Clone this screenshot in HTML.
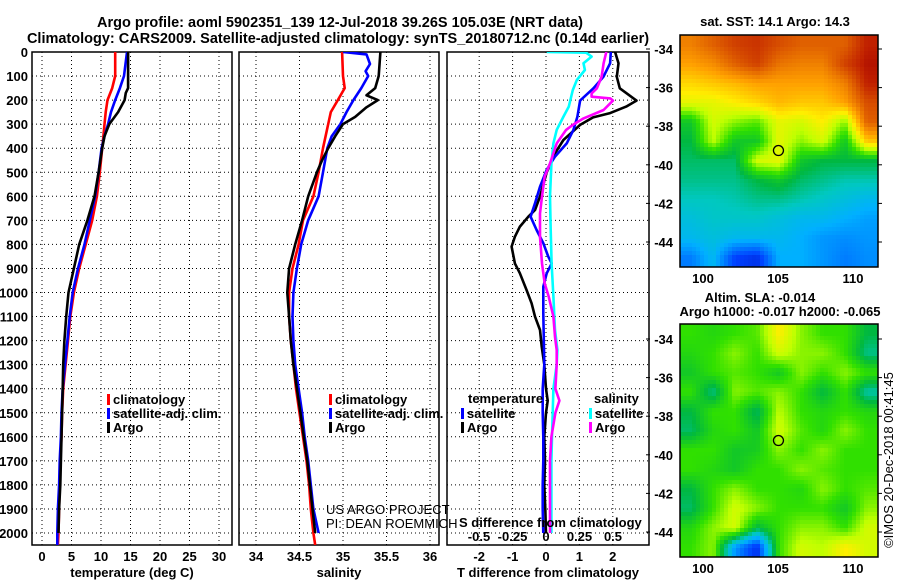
<!DOCTYPE html>
<html><head><meta charset="utf-8">
<style>
html,body{margin:0;padding:0;background:#fff;}
svg{display:block;font-family:"Liberation Sans",Arial,sans-serif;}
.b{font-weight:bold;font-size:13px;fill:#000;}
.t{font-weight:bold;font-size:14.5px;fill:#000;}
</style></head>
<body>
<svg id="chart" width="900" height="580" viewBox="0 0 900 580" xmlns="http://www.w3.org/2000/svg">
<defs>
<clipPath id="c1"><rect x="32" y="52" width="200" height="493"/></clipPath>
<clipPath id="c2"><rect x="239" y="52" width="200" height="493"/></clipPath>
<clipPath id="c3"><rect x="447" y="52" width="202" height="493"/></clipPath>
</defs>
<text class="t" x="340" y="27" text-anchor="middle">Argo profile: aoml 5902351_139 12-Jul-2018 39.26S 105.03E (NRT data)</text>
<text class="t" x="338" y="43" text-anchor="middle">Climatology: CARS2009. Satellite-adjusted climatology: synTS_20180712.nc (0.14d earlier)</text>
<text class="b" x="775" y="26" text-anchor="middle">sat. SST: 14.1 Argo: 14.3</text>
<text class="b" x="760" y="302" text-anchor="middle">Altim. SLA: -0.014</text>
<text class="b" x="780" y="316" text-anchor="middle">Argo h1000: -0.017 h2000: -0.065</text>
<text x="893" y="460" font-size="13" text-anchor="middle" transform="rotate(-90 893 460)">©IMOS 20-Dec-2018 00:41:45</text>
<g id="g"></g>
</svg>
<script>
// ---------- data ----------
const depthTicks=[0,100,200,300,400,500,600,700,800,900,1000,1100,1200,1300,1400,1500,1600,1700,1800,1900,2000];
const tempTicks=[0,5,10,15,20,25,30];
const salTicks=[34,34.5,35,35.5,36];
const salTickLabels=["34","34.5","35","35.5","36"];
const tdTicks=[-2,-1,0,1,2];
const sdTicks=[-0.5,-0.25,0,0.25,0.5];
const sdTickLabels=["-0.5","-0.25","0","0.25","0.5"];

const tempClimD=[0,100,150,200,250,300,350,400,500,600,700,800,900,1000,1100,1200,1300,1400,1500,1600,1700,1800,1900,2000,2050];
const tempClim=[12.4,12.4,11.9,11.1,10.8,10.6,10.4,10.2,9.8,9.3,8.5,7.4,6.3,5.4,4.8,4.4,4.0,3.6,3.4,3.3,3.1,3.0,2.9,2.8,2.7];
const tempSat=[14.4,13.9,13.2,12.4,11.7,11.2,10.6,10.1,9.6,9.0,8.1,7.2,6.1,5.2,4.7,4.3,3.9,3.5,3.3,3.2,3.0,2.9,2.7,2.6,2.6];
const tempArgoD=[0,100,150,170,200,250,300,350,400,500,600,700,800,900,1000,1100,1200,1300,1400,1500,1600,1700,1800,1900,2000];
const tempArgo=[14.6,14.6,14.6,14.2,14.0,12.9,11.4,10.6,10.2,9.6,8.9,7.7,6.3,5.4,4.5,4.1,3.8,3.6,3.5,3.4,3.3,3.2,3.1,2.9,2.8];

const salClim=[34.99,35.0,35.02,34.94,34.86,34.83,34.80,34.77,34.72,34.66,34.54,34.49,34.42,34.38,34.38,34.40,34.43,34.46,34.50,34.54,34.58,34.61,34.63,34.66,34.68];
const salSatD=[0,10,50,80,100,150,200,250,300,350,400,500,600,700,800,900,1000,1100,1200,1300,1400,1500,1600,1700,1800,1900,2000];
const salSat=[35.0,35.27,35.31,35.26,35.29,35.21,35.12,35.04,34.97,34.87,34.82,34.77,34.72,34.6,34.52,34.47,34.43,34.42,34.43,34.45,34.49,34.53,34.56,34.6,34.63,34.66,34.72];
const salArgoD=[0,100,150,180,200,230,270,300,350,400,450,500,600,700,800,900,1000,1100,1200,1300,1400,1500,1600,1700,1800,1900,2000];
const salArgo=[35.43,35.41,35.37,35.27,35.40,35.27,35.14,35.0,34.91,34.83,34.76,34.70,34.6,34.53,34.45,34.38,34.36,34.38,34.40,34.43,34.47,34.51,34.55,34.59,34.62,34.65,34.68];

const tdArgoD=[0,47,103,151,202,227,255,272,303,366,421,500,601,657,685,726,768,809,879,920,990,1045,1100,1156,1225,1300,1400,1450,1500,1600,1700,1800,1900,2000];
const tdArgo=[2.07,2.17,2.12,2.21,2.71,2.4,1.9,1.41,1.02,0.52,0.27,0.02,-0.18,-0.33,-0.53,-0.78,-0.93,-1.03,-0.93,-0.78,-0.58,-0.43,-0.33,-0.18,-0.13,-0.05,0,0.05,0,-0.05,-0.03,-0.05,-0.02,0];
const tdSatD=[0,47,103,151,202,269,324,380,435,490,560,629,685,740,795,851,879,920,976,1087,1239,1300,1400,1500,1600,1700,1800,1900,2000];
const tdSat=[1.94,1.92,1.72,1.42,1.02,0.94,0.82,0.62,0.27,0.02,-0.18,-0.33,-0.46,-0.28,-0.08,0.07,0.17,0.02,-0.08,-0.08,-0.06,-0.05,-0.1,-0.1,-0.08,-0.08,-0.1,-0.1,-0.08];
const sdSatD=[0,3,19,47,75,117,158,227,269,324,380,463,601,740,879,1017,1156,1239,1300,1400,1500,1600,1700,1800,1900,2000];
const sdSat=[0.005,0.30,0.34,0.28,0.29,0.23,0.2,0.17,0.13,0.08,0.055,0.04,0.03,0.035,0.042,0.055,0.067,0.085,0.08,0.055,0.05,0.045,0.04,0.04,0.04,0.04];
const sdArgoD=[0,47,103,151,172,186,193,202,241,276,303,324,380,463,518,601,671,768,879,962,1017,1100,1184,1239,1300,1400,1450,1500,1600,1700,1800,1900,2000];
const sdArgo=[0.45,0.43,0.415,0.38,0.34,0.34,0.48,0.5,0.43,0.28,0.2,0.15,0.08,0.03,-0.01,-0.03,-0.045,-0.045,-0.03,-0.01,0.02,0.055,0.067,0.08,0.08,0.07,0.1,0.07,0.04,0.03,0.03,0.03,0.03];

const latTicks=[-34,-36,-38,-40,-42,-44];
const lonTicks=[100,105,110];
const argoLon=105.03, argoLat=-39.26;
const sstGrid=[
[0.8,0.85,0.9,0.92,0.88,0.85,0.85,0.85,0.95],
[0.75,0.78,0.85,0.9,0.82,0.8,0.8,0.9,0.97],
[0.68,0.7,0.72,0.75,0.75,0.75,0.75,0.8,0.95],
[0.62,0.62,0.65,0.68,0.72,0.7,0.7,0.75,0.88],
[0.45,0.6,0.55,0.52,0.62,0.6,0.65,0.55,0.85],
[0.42,0.58,0.45,0.45,0.62,0.55,0.6,0.45,0.7],
[0.4,0.4,0.4,0.6,0.62,0.45,0.42,0.42,0.42],
[0.38,0.38,0.38,0.42,0.45,0.4,0.38,0.36,0.36],
[0.35,0.35,0.36,0.38,0.38,0.36,0.34,0.32,0.3],
[0.32,0.34,0.34,0.34,0.32,0.3,0.3,0.28,0.26],
[0.3,0.32,0.3,0.3,0.3,0.28,0.25,0.24,0.25],
[0.22,0.3,0.15,0.12,0.28,0.28,0.25,0.22,0.24]];
const slaGrid=[
[0.5,0.48,0.5,0.52,0.65,0.55,0.5,0.5,0.42],
[0.48,0.5,0.55,0.5,0.6,0.55,0.55,0.5,0.38],
[0.45,0.5,0.52,0.5,0.45,0.55,0.5,0.55,0.5],
[0.5,0.38,0.55,0.52,0.55,0.5,0.42,0.5,0.36],
[0.42,0.5,0.5,0.4,0.58,0.5,0.48,0.5,0.48],
[0.4,0.48,0.5,0.45,0.6,0.52,0.48,0.55,0.5],
[0.5,0.5,0.45,0.46,0.55,0.5,0.55,0.5,0.5],
[0.5,0.48,0.45,0.5,0.5,0.55,0.52,0.5,0.5],
[0.42,0.5,0.55,0.5,0.5,0.48,0.55,0.5,0.52],
[0.4,0.5,0.6,0.55,0.5,0.5,0.5,0.45,0.55],
[0.48,0.55,0.6,0.42,0.5,0.55,0.55,0.5,0.6],
[0.5,0.55,0.25,0.12,0.5,0.6,0.58,0.65,0.6]];

// ---------- helpers ----------
const NS="http://www.w3.org/2000/svg";
const G=document.getElementById('g');
function mk(tag,attrs,parent){const e=document.createElementNS(NS,tag);for(const k in attrs)e.setAttribute(k,attrs[k]);(parent||G).appendChild(e);return e;}
function txt(s,x,y,cls,anchor,parent){const e=mk('text',{x:x,y:y,class:cls||'b','text-anchor':anchor||'start'},parent);e.textContent=s;return e;}
const Y=d=>52+d*0.2405;
const xT=v=>42+v*5.9;
const xS=v=>256+(v-34)*87;
const xTD=v=>546+v*33.4;
const xSD=v=>546+v*134;

function panel(name,x0,x1,xs,ticks,labels,clip,title){
  const grp=mk('g',{});
  
  
  depthTicks.forEach(d=>{const l=mk('line',{x1:x0,x2:x1,y1:Y(d),y2:Y(d),stroke:'#000','stroke-width':1,'stroke-dasharray':'1,3'},grp);
    });
  ticks.forEach((t,i)=>{const xx=xs(t);
    const l=mk('line',{x1:xx,x2:xx,y1:52,y2:545,stroke:'#000','stroke-width':1,'stroke-dasharray':'1,3'},grp);
    
    const tl=txt(labels[i],xx,561,'b','middle',grp);
    });
  const fr=mk('rect',{x:x0,y:52,width:x1-x0,height:493,fill:'none',stroke:'#000','stroke-width':1.5},grp);
  
  const at=txt(title,(x0+x1)/2,577,'b','middle',grp);
  
  return grp;
}
function series(name,D,V,xs,color,clip){
  const pts=D.map((d,i)=>xs(V[i]).toFixed(1)+','+Y(d).toFixed(1)).join(' ');
  const p=mk('polyline',{points:pts,fill:'none',stroke:color,'stroke-width':2.6,'stroke-linejoin':'round','clip-path':'url(#'+clip+')'});
  
  
}
function legend(name,x,y,color,label){
  const r=mk('rect',{x:x,y:y-10,width:3,height:11,fill:color});
  
  
  const t=txt(label,x+6,y);
  
  
}

// y tick labels
depthTicks.forEach(d=>{const t=txt(String(d),28,Y(d)+5,'b','end');
  
  });

panel('temperature-panel',32,232,xT,tempTicks,tempTicks.map(String),'c1','temperature (deg C)');
panel('salinity-panel',239,439,xS,salTicks,salTickLabels,'c2','salinity');
panel('difference-panel',447,649,xTD,tdTicks,tdTicks.map(String),'c3','T difference from climatology');

series('temp-climatology-line',tempClimD,tempClim,xT,'#f00','c1');
series('temp-satellite-line',tempClimD,tempSat,xT,'#00f','c1');
series('temp-argo-line',tempArgoD,tempArgo,xT,'#000','c1');
series('sal-climatology-line',tempClimD,salClim,xS,'#f00','c2');
series('sal-satellite-line',salSatD,salSat,xS,'#00f','c2');
series('sal-argo-line',salArgoD,salArgo,xS,'#000','c2');
series('tdiff-argo-line',tdArgoD,tdArgo,xTD,'#000','c3');
series('tdiff-satellite-line',tdSatD,tdSat,xTD,'#00f','c3');
series('sdiff-satellite-line',sdSatD,sdSat,xSD,'#0ff','c3');
series('sdiff-argo-line',sdArgoD,sdArgo,xSD,'#f0f','c3');

legend('legend-t-climatology',107,404,'#f00','climatology');
legend('legend-t-satellite',107,418,'#00f','satellite-adj. clim.');
legend('legend-t-argo',107,432,'#000','Argo');
legend('legend-s-climatology',329,404,'#f00','climatology');
legend('legend-s-satellite',329,418,'#00f','satellite-adj. clim.');
legend('legend-s-argo',329,432,'#000','Argo');
{const t=txt('temperature',468,403);}
{const t=txt('salinity',594,403);}
legend('legend-td-satellite',461,418,'#00f','satellite');
legend('legend-td-argo',461,432,'#000','Argo');
legend('legend-sd-satellite',589,418,'#0ff','satellite');
legend('legend-sd-argo',589,432,'#f0f','Argo');
{const t=txt('S difference from climatology',459,527);}
sdTicks.forEach((s,i)=>{const t=txt(sdTickLabels[i],xSD(s),541,'b','middle');
  
  });
{const t=mk('text',{x:326,y:514,'font-size':13,fill:'#000'});t.textContent='US ARGO PROJECT';}
{const t=mk('text',{x:326,y:528,'font-size':13,fill:'#000'});t.textContent='PI: DEAN ROEMMICH';}

// ---------- maps ----------
const stops=[[0,[0,0,139]],[0.15,[0,64,255]],[0.28,[0,176,255]],[0.35,[0,200,192]],[0.42,[0,184,64]],[0.5,[48,224,0]],[0.58,[192,255,0]],[0.65,[255,238,0]],[0.75,[255,160,0]],[0.85,[224,96,0]],[0.95,[192,32,0]],[1,[160,0,0]]];
function cmap(v){v=Math.max(0,Math.min(1,v));for(let i=1;i<stops.length;i++){if(v<=stops[i][0]){const a=stops[i-1],b=stops[i];const f=(v-a[0])/(b[0]-a[0]);
  return 'rgb('+a[1].map((c,k)=>Math.round(c+(b[1][k]-c)*f)).join(',')+')';}}return 'rgb(160,0,0)';}
function drawMap(name,grid,top,bottom,lat34y){
  const x0=680,x1=878,W=x1-x0,H=bottom-top,cell=4;
  const grp=mk('g',{});
  
  
  const R=grid.length,C=grid[0].length;
  for(let y=top;y<bottom;y+=cell){for(let x=x0;x<x1;x+=cell){
    const fy=((y+cell/2-top)/H)*R-0.5, fx=((x+cell/2-x0)/W)*C-0.5;
    const r0=Math.max(0,Math.min(R-1,Math.floor(fy))),r1=Math.min(R-1,r0+1),c0=Math.max(0,Math.min(C-1,Math.floor(fx))),c1=Math.min(C-1,c0+1);
    const ty=Math.max(0,Math.min(1,fy-r0)),tx=Math.max(0,Math.min(1,fx-c0));
    const v=grid[r0][c0]*(1-tx)*(1-ty)+grid[r0][c1]*tx*(1-ty)+grid[r1][c0]*(1-tx)*ty+grid[r1][c1]*tx*ty;
    mk('rect',{x:x,y:y,width:Math.min(cell,x1-x),height:Math.min(cell,bottom-y),fill:cmap(v)},grp);
  }}
  const fr=mk('rect',{x:x0,y:top,width:W,height:H,fill:'none',stroke:'#000','stroke-width':1.5},grp);
  
  const ly=lat=>lat34y+(-34-lat)*19.3;
  const lx=lon=>703+(lon-100)*15;
  latTicks.forEach(l=>{const t=txt(String(l),673,ly(l)+5,'b','end',grp);
    
    mk('line',{x1:x1,x2:x1+4,y1:ly(l),y2:ly(l),stroke:'#000'},grp);
    mk('line',{x1:650,x2:646,y1:ly(l),y2:ly(l),stroke:'#000'},grp);});
  lonTicks.forEach(l=>{const t=txt(String(l),lx(l),bottom+16,'b','middle',grp);
    });
  const c=mk('circle',{cx:lx(argoLon),cy:ly(argoLat),r:5,fill:'none',stroke:'#000','stroke-width':1.3},grp);
  
}
drawMap('sst-map',sstGrid,35,267,49);
drawMap('sla-map',slaGrid,324,557,339);
</script>
</body></html>
